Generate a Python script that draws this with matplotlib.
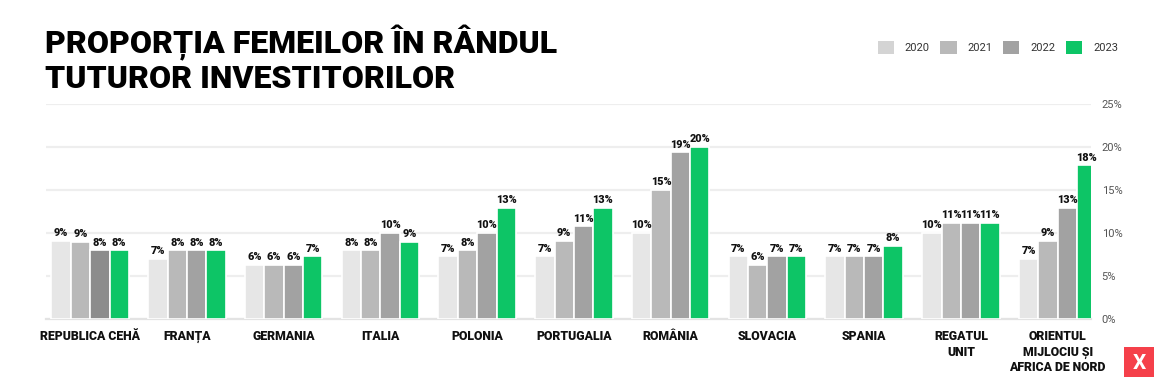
import matplotlib.pyplot as plt
import numpy as np
from matplotlib.patches import Patch

plt.rcParams['font.family'] = ['Roboto', 'DejaVu Sans']

countries = ['REPUBLICA CEHĂ', 'FRANȚA', 'GERMANIA', 'ITALIA', 'POLONIA', 'PORTUGALIA',
             'ROMÂNIA', 'SLOVACIA', 'SPANIA', 'REGATUL\nUNIT',
             'ORIENTUL\nMIJLOCIU ȘI\nAFRICA DE NORD']
years = ['2020', '2021', '2022', '2023']
v2020 = [9.1, 7.0, 6.3, 8.0, 7.3, 7.3, 10.0, 7.3, 7.3, 10.0, 7.0]
v2021 = [9.0, 8.0, 6.3, 8.0, 8.0, 9.1, 15.0, 6.3, 7.3, 11.2, 9.1]
v2022 = [8.0, 8.0, 6.3, 10.0, 10.0, 10.8, 19.4, 7.3, 7.3, 11.2, 12.9]
v2023 = [8.0, 8.0, 7.3, 9.0, 12.9, 12.9, 20.0, 7.3, 8.5, 11.2, 17.9]
series = [v2020, v2021, v2022, v2023]
colors = ['#e6e6e6', '#b9b9b9', '#a2a2a2', '#0dc566']
legend_colors = ['#d4d4d4', '#b9b9b9', '#a2a2a2', '#0dc566']

fig = plt.figure(figsize=(11.54, 3.77), dpi=100)
ax = fig.add_axes([0.040, 0.154, 0.905, 0.570])

x = np.arange(len(countries))
w = 0.2
for i, vals in enumerate(series):
    cols = [colors[i]] * len(vals)
    if i == 2:
        cols[0] = '#8c8c8c'
    pos = x + (i - 1.5) * w
    ax.bar(pos, vals, width=w, color=cols, edgecolor='white', linewidth=1.2, zorder=3)
    for px, v in zip(pos, vals):
        ax.text(px, v + 0.3, f'{v:.0f}%', ha='center', va='bottom', fontsize=7.8,
                fontweight='heavy', color='#111111', zorder=4)

ax.set_xlim(-0.455, 10.34)
ax.set_ylim(0, 25)
ax.set_yticks(np.arange(0, 26, 5))
ax.set_yticklabels([f'{t}%' for t in range(0, 26, 5)])
ax.yaxis.tick_right()
ax.tick_params(axis='y', length=0, labelsize=8, labelcolor='#555555', pad=8)
ax.tick_params(axis='x', length=0, pad=8)
ax.set_xticks(x)
ax.set_xticklabels(countries, fontsize=8.8, fontweight='heavy', color='#111111',
                   linespacing=1.25, va='top')
ax.grid(axis='y', color='#eeeeee', linewidth=1.6, zorder=0)
for s in ['top', 'right', 'left']:
    ax.spines[s].set_visible(False)
ax.spines['bottom'].set_color('#e3e3e3')
ax.spines['bottom'].set_linewidth(1.6)

fig.text(0.039, 0.935, 'PROPORȚIA FEMEILOR ÎN RÂNDUL\nTUTUROR INVESTITORILOR',
         fontsize=23, fontweight='heavy', color='#000000', va='top', ha='left',
         linespacing=1.12)

handles = [Patch(facecolor=c, edgecolor='none', label=y) for c, y in zip(legend_colors, years)]
fig.legend(handles=handles, loc='center right', bbox_to_anchor=(0.969, 0.875), ncol=4,
           frameon=False, fontsize=8, handlelength=1.45, handleheight=1.45,
           columnspacing=0.95, handletextpad=1.0, labelcolor='#333333',
           borderpad=0, borderaxespad=0)

# logo
logo = fig.add_axes([0.974, 0.0, 0.026, 0.08])
logo.set_facecolor('#f5404a')
logo.set_xticks([])
logo.set_yticks([])
for s in logo.spines.values():
    s.set_visible(False)
logo.text(0.5, 0.45, 'X', ha='center', va='center', color='white', fontsize=15,
          fontweight='bold', transform=logo.transAxes)

fig.savefig('out.png', dpi=100)
